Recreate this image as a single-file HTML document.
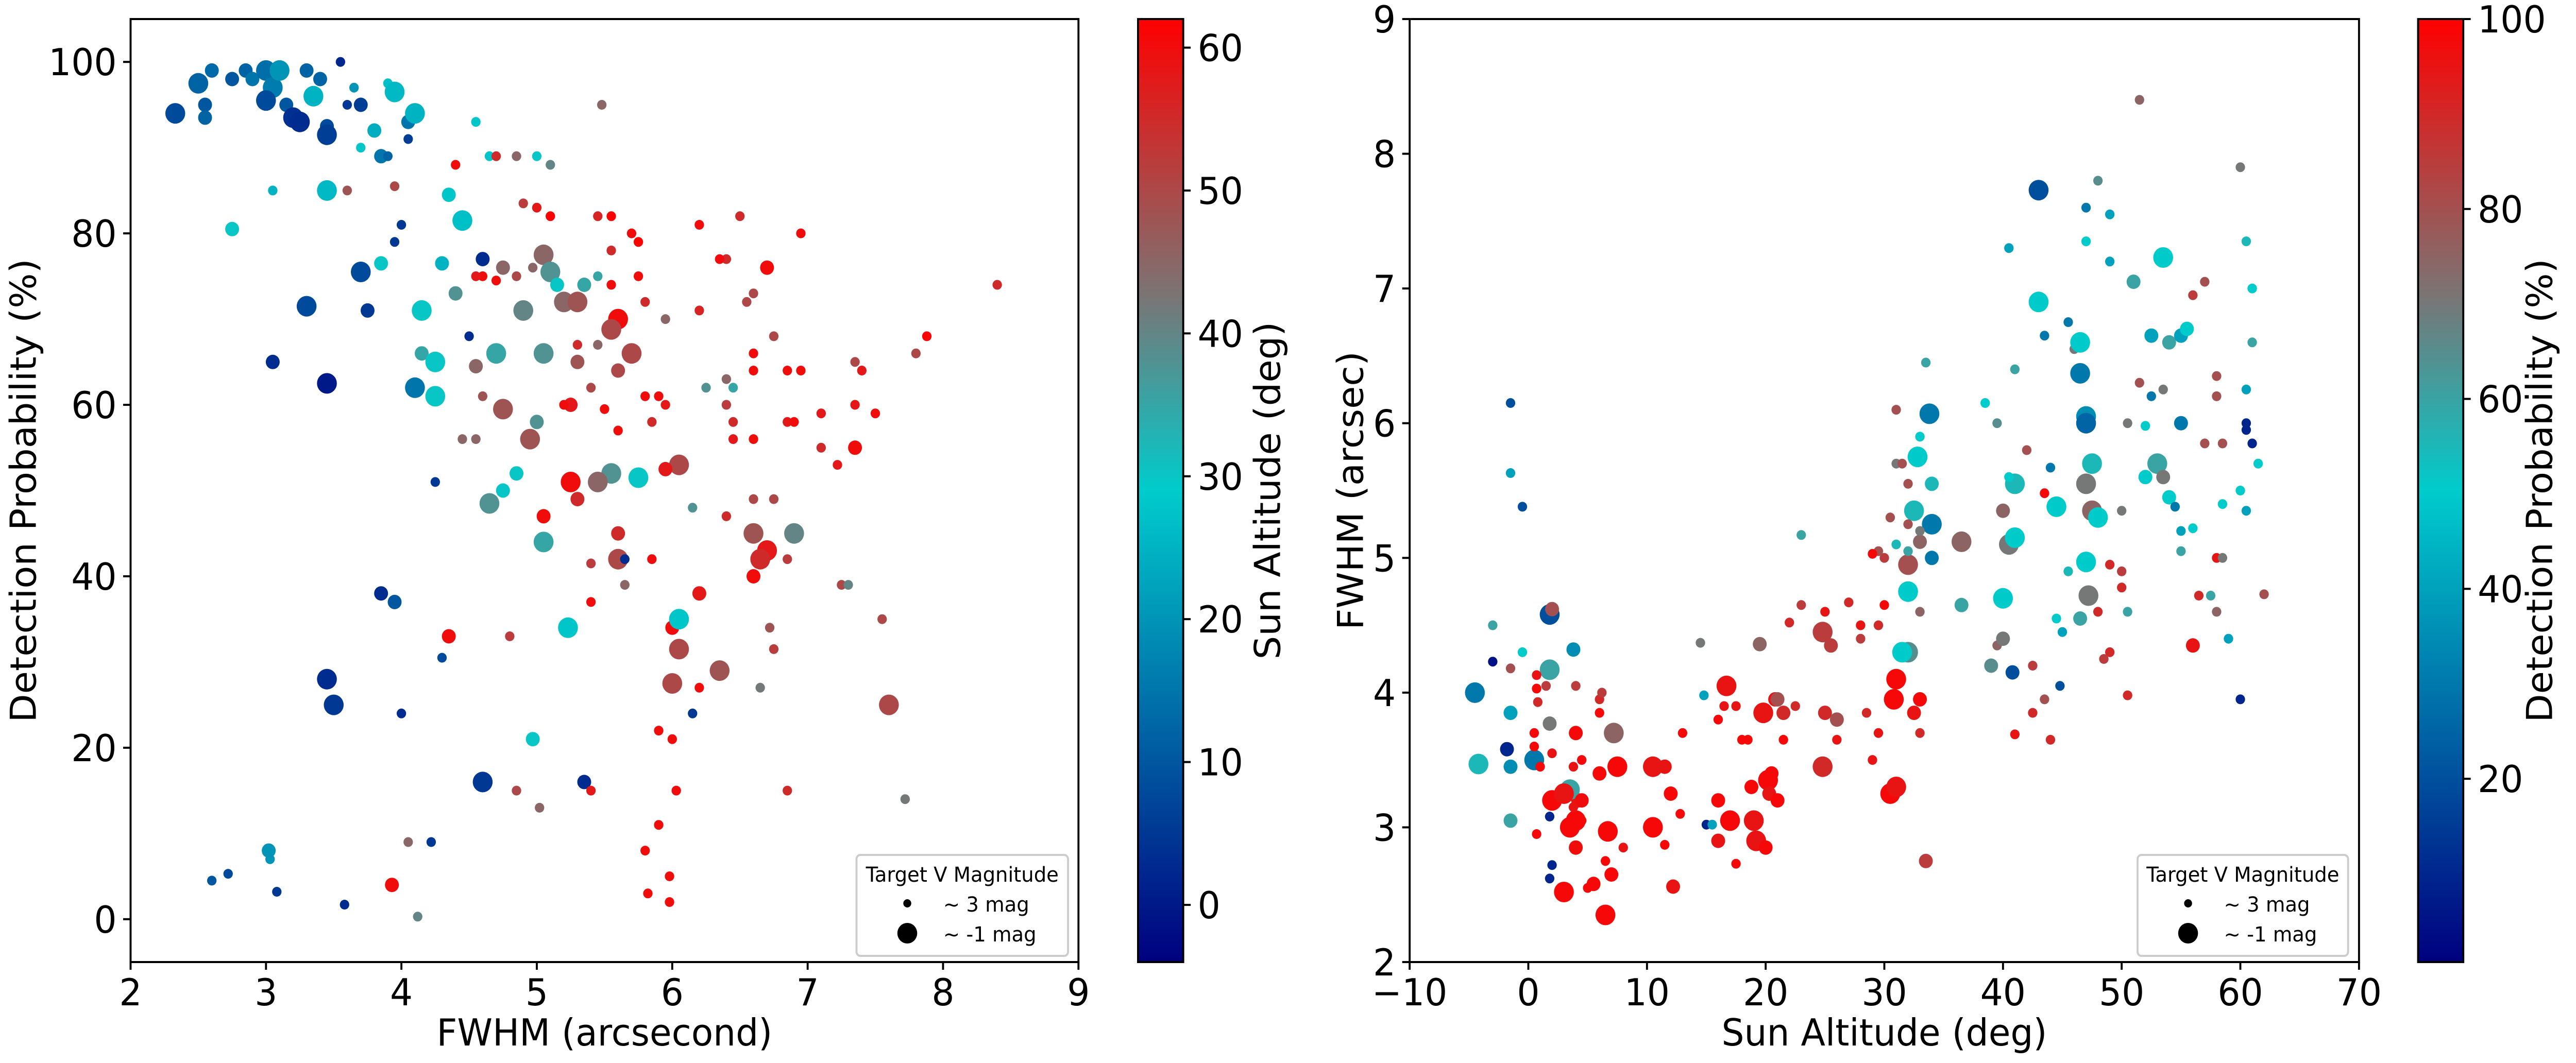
<!DOCTYPE html>
<html><head><meta charset="utf-8"><style>
html,body{margin:0;padding:0;background:#fff;width:100%;height:100%;overflow:hidden}
svg{display:block;width:100vw;height:100vh}
text{font-family:"DejaVu Sans","Liberation Sans",sans-serif;fill:#000}
</style></head><body>
<svg id="fig" viewBox="0 0 5188 2064" preserveAspectRatio="none" xmlns="http://www.w3.org/2000/svg">
<defs>
<linearGradient id="cmap" x1="0" y1="1" x2="0" y2="0">
<stop offset="0" stop-color="#00007f"/><stop offset="0.5" stop-color="#00cccc"/><stop offset="0.7" stop-color="#777777"/><stop offset="1" stop-color="#ff0000"/>
</linearGradient>
</defs>
<g id="left"></g>
<g id="right"></g>
</svg>
<script>
// ---- Left chart data: FWHM vs Detection Probability, colour = sun altitude
const leftFwhm=[2.33,2.5,2.55,2.55,2.6,2.75,2.85,2.9,3.0,3.05,3.1,3.0,3.15,3.2,3.25,3.3,3.35,3.4,3.45,3.45,3.55,3.6,3.65,3.7,3.8,3.85,3.9,3.95,4.05,4.1,4.05,3.7,3.9,4.55,4.35,4.45,4.65,4.85,5.0,5.1,4.7,4.4,3.45,3.05,2.75,3.6,3.95,4.0,3.95,3.7,3.85,3.3,3.75,3.05,3.45,4.1,4.15,4.25,4.25,4.15,4.3,4.6,4.4,4.5,4.6,4.55,4.7,4.75,4.85,4.9,4.97,5.05,5.1,5.15,5.2,5.3,5.35,5.45,5.55,5.7,5.75,5.0,5.1,4.9,5.45,5.55,6.2,6.5,6.95,6.7,6.4,6.35,6.6,6.2,5.95,5.8,5.75,5.55,5.6,5.55,5.45,5.3,5.7,5.6,5.3,5.4,5.25,5.05,4.7,4.55,4.6,4.75,4.95,5.0,4.55,5.55,5.75,5.45,5.25,5.3,4.85,4.75,4.65,5.05,5.05,5.6,5.6,5.65,5.85,5.65,5.4,5.4,4.25,6.05,5.95,6.15,6.6,6.9,6.7,6.65,6.6,6.4,6.6,6.75,6.85,6.2,6.0,6.05,6.05,6.0,6.35,5.23,4.97,4.6,5.35,5.4,4.85,5.02,4.0,3.5,3.45,3.85,3.95,4.3,4.35,4.8,5.9,6.0,6.15,6.2,5.9,5.8,5.98,5.82,5.98,6.03,6.85,7.72,7.6,7.55,6.72,6.75,6.65,7.25,7.3,7.22,7.35,7.5,7.35,7.1,6.85,6.9,6.85,6.6,6.6,6.55,6.75,6.95,7.35,7.4,7.8,7.88,8.4,6.45,6.4,6.4,6.45,6.6,7.1,6.45,6.25,5.95,5.8,5.85,5.9,5.5,5.6,5.2,4.45,3.93,4.12,4.05,4.22,3.58,3.08,3.02,3.03,2.72,2.6,5.48];
const leftProb=[94,97.5,95,93.5,99,98,99,98,99,97,99,95.5,95,93.5,93,99,96,98,92.5,91.5,100,95,97,95,92,89,97.5,96.5,93,94,91,90,89,93,84.5,81.5,89,89,89,88,89,88,85,85,80.5,85,85.5,81,79,75.5,76.5,71.5,71,65,62.5,62,66,65,61,71,76.5,77,73,68,75,75,74.5,76,75,71,76,77.5,75.5,74,72,72,74,75,78,80,79,83,82,83.5,82,82,81,82,80,76,77,77,73,71,70,72,75,74,70,68.8,67,67,66,64,65,62,60,66,66,64.5,61,59.5,56,58,56,52,51.5,51,51,49,52,50,48.5,47,44,45,42,42,42,39,41.5,37,51,53,52.5,48,45,45,43,42,40,47,49,49,42,38,34,35,31.5,27.5,29,34,21,16,16,15,15,13,24,25,28,38,37,30.5,33,33,22,21,24,27,11,8,5,3,2,15,15,14,25,35,34,31.5,27,39,39,53,55,59,60,59,58,58,64,64,66,72,68,64,65,64,66,68,74,58,60,63,62,56,55,56,62,60,61,58,61,59.5,57,60,56,4,0.3,9,9,1.7,3.2,8,7,5.3,4.5,95];
const leftAlt=[8,12,10,12,13,10,12,15,14,16,20,8,10,4,3,12,25,12,8,6,2,5,20,6,24,15,27,26,15,25,6,28,12,28,28,27,28,45,30,40,55,60,26,25,30,48,50,5,5,8,30,8,5,3,0,15,35,30,30,30,25,3,38,3,60,58,60,45,50,40,45,45,38,30,45,48,35,35,55,60,62,58,62,52,56,62,60,55,60,60,55,60,50,56,45,55,60,60,60,50,45,55,50,50,48,50,58,38,35,45,48,48,48,38,45,38,30,45,60,55,30,30,38,60,35,55,50,3,60,45,52,60,5,50,58,38,48,40,58,55,60,55,50,50,52,58,60,28,50,50,48,28,30,5,3,58,50,45,3,5,3,3,10,8,60,52,60,60,5,60,60,60,60,60,60,60,55,42,50,50,48,52,42,50,40,58,60,60,58,58,58,60,60,60,60,50,50,60,50,58,50,62,55,55,52,45,35,60,55,58,38,58,60,55,60,60,60,60,45,60,40,45,5,3,5,20,20,8,10,45];
const leftMag=[-1,-1,1,1,1,1,1,1,-1,-1,-1,-1,1,-1,-1,1,-1,1,1,-1,3,3,3,1,1,1,3,-1,1,-1,3,3,3,3,1,-1,3,3,3,3,3,3,-1,3,1,3,3,3,3,-1,1,-1,1,1,-1,-1,1,-1,-1,-1,1,1,1,3,3,3,3,1,3,-1,3,-1,-1,1,-1,-1,1,3,3,3,3,3,3,3,3,3,3,3,3,1,3,3,3,3,3,3,3,3,-1,-1,3,3,-1,1,1,3,1,-1,-1,1,3,-1,-1,1,3,-1,-1,-1,-1,1,1,1,-1,1,-1,1,-1,3,3,3,3,3,3,-1,1,3,-1,-1,-1,-1,1,3,3,3,3,1,1,-1,-1,-1,-1,-1,1,-1,1,3,3,3,3,-1,-1,1,1,3,1,3,3,3,3,3,3,3,3,3,3,3,3,3,-1,3,3,3,3,3,3,3,1,3,3,3,3,3,3,3,3,3,3,3,3,3,3,3,3,3,3,3,3,3,3,3,3,3,3,3,3,3,3,3,3,1,3,3,3,3,3,1,3,3,3,3,3,3];
const leftXTicks=[2,3,4,5,6,7,8,9];
const leftYTicks=[0,20,40,60,80,100];
const leftCbTicks=[0,10,20,30,40,50,60];

// ---- Right chart data: Sun altitude vs FWHM, colour = detection probability
const rightAlt=[2,3.5,4,4.2,5.5,6.5,6.7,3,7,7.5,7.2,4,3.5,3,6,8,5,4,4.5,6.5,10.5,10.5,11.5,11.5,12,12.2,13,12.8,16.7,17,16,16,17.5,18.5,18.8,19,19.2,20,20.2,20.5,20.3,21,21.5,19.8,20.8,21.5,21,19.5,22.5,24.8,25,26,25.5,24.8,27,28,29,28.5,29.5,30.5,31,30.8,31,33,32.5,33,33.5,32,31.5,32,33,32.5,32,34,34,33.8,33.5,31,31,31.5,32.8,33,34,30,29.5,30.5,31,32,33,36.5,36.5,39,40,39.5,40,40.5,41,41,40,40.5,42,43.5,44.5,44,38.5,39.5,41,40.5,43,43,43.5,45.5,46,46.5,46.5,47,47,47.5,47,47.5,48,47,47.2,46.5,45.5,44.5,45,44.8,42.5,42.5,44,43.5,41,40.8,48,49,48.5,49,50,50.5,49,49,48,47,47,51.5,51,52.5,53.5,55,55.5,52.5,53.5,54,55,52,53,53.5,52,54,55,56,55,56.5,56,57.5,58,58,58.5,58.5,60,60.5,60.5,61,61.5,60.5,60.5,61,61,60.5,60,58,58.5,59,60,62,57,58,56,57,51.5,50.5,54.5,50,50,50.5,-1.5,-1.5,-0.5,-0.5,-3,-3,-1.5,-1.5,-4.5,-4.2,-1.8,-1.5,-1.5,0.5,1.8,2,1.8,1.8,3.8,4,1.5,0.7,0.7,0.8,0.5,0.5,2,1.8,2,1.8,0.7,1,6,6,6.2,3.8,3.8,4.5,4.5,14.8,15,15.5,16,16.5,17.5,18,14.5,23,22,23,25,26,28,29,30,29.5,32,32,33];
const rightFwhm=[3.2,3.0,2.85,3.2,2.58,2.35,2.97,2.52,2.65,3.45,3.7,3.7,3.28,3.25,3.4,2.85,2.55,3.05,3.2,2.75,3.45,3.0,3.45,2.87,3.25,2.56,3.7,3.1,4.05,3.05,3.2,2.9,2.73,3.65,3.3,3.05,2.9,2.85,3.35,3.4,3.25,3.2,3.65,3.85,3.95,3.85,3.95,4.36,3.9,3.45,3.85,3.8,4.35,4.45,4.67,4.4,3.5,3.85,4.5,3.25,3.3,3.95,4.1,3.95,3.85,3.7,2.75,4.3,4.3,4.95,5.12,5.35,5.25,5.25,5.0,6.07,6.45,6.1,5.7,5.7,5.75,5.9,5.55,5.0,5.05,5.3,5.1,4.75,4.6,5.12,4.65,4.2,4.7,4.35,4.4,5.1,5.15,5.55,5.35,5.6,5.8,5.48,5.38,5.67,6.15,6.0,6.4,7.3,7.73,6.9,6.65,6.75,6.55,6.6,6.37,6.05,6.0,5.7,5.55,5.35,5.3,4.97,4.72,4.55,4.9,4.55,4.45,4.05,4.2,3.85,3.65,3.95,3.69,4.15,4.6,4.3,4.25,4.95,4.9,3.98,7.55,7.2,7.8,7.35,7.6,8.4,7.05,6.65,7.23,6.65,6.7,6.2,6.25,6.6,6.0,5.98,5.7,5.6,5.6,5.45,5.2,5.22,5.05,4.72,4.35,4.72,4.6,5.0,5.0,5.4,5.5,5.95,6.0,5.85,5.7,5.35,6.25,6.6,7.0,7.35,7.9,6.35,5.85,4.4,3.95,4.73,5.85,6.2,6.95,7.05,6.3,6.0,5.38,5.35,4.78,4.6,6.15,5.63,5.38,4.3,4.5,4.23,4.18,3.85,4.0,3.47,3.58,3.45,3.05,3.5,4.58,4.62,4.17,3.77,4.32,4.05,4.05,4.13,4.03,3.93,3.7,3.6,3.55,3.08,2.72,2.62,2.95,3.45,3.85,3.95,4.0,3.45,3.15,3.05,3.5,3.98,3.02,3.02,3.8,3.9,3.9,3.65,4.37,5.17,4.52,4.65,4.6,3.65,4.5,5.03,4.65,3.7,5.55,5.05,5.2];
const rightProb=[98,98,97,95,98,98,98,98,98,98,75,98,60,95,98,95,98,98,97,98,95,98,95,98,98,95,98,98,95,98,98,95,98,98,98,95,95,98,98,98,95,98,98,95,95,90,80,75,90,90,90,80,85,85,90,85,95,90,90,98,95,98,98,98,95,90,85,65,50,80,75,55,80,30,30,30,60,80,70,80,50,50,55,85,80,80,55,50,75,75,60,65,50,75,70,70,50,55,75,50,80,98,50,30,50,65,60,40,20,50,30,30,70,50,30,35,25,55,70,75,50,50,70,60,55,50,40,20,85,90,90,80,95,20,90,90,85,90,85,90,40,40,65,50,30,75,60,40,50,40,50,30,70,60,30,50,60,70,50,50,40,50,60,90,95,60,75,95,70,50,50,10,10,10,50,40,40,60,50,55,70,80,80,40,10,80,80,80,85,80,80,70,30,70,90,60,20,40,20,50,60,5,80,40,30,55,10,35,60,30,20,80,60,70,35,85,85,95,98,90,98,98,95,10,10,10,98,98,98,90,85,95,95,98,98,40,10,40,98,95,95,98,70,60,90,85,95,95,95,98,98,95,80,60,70];
const rightMag=[-1,-1,1,1,1,-1,-1,-1,1,-1,-1,1,-1,-1,1,3,3,-1,1,3,-1,-1,1,3,1,1,3,3,-1,-1,1,1,3,3,1,-1,-1,1,-1,1,1,1,3,-1,1,1,1,1,3,-1,1,1,1,-1,3,3,3,3,3,-1,-1,-1,-1,1,1,3,1,-1,-1,-1,1,-1,3,-1,1,-1,3,3,3,3,-1,3,1,3,3,3,3,-1,3,-1,1,1,-1,3,1,-1,-1,-1,1,3,3,3,-1,3,3,3,3,3,-1,-1,3,3,3,-1,-1,-1,-1,-1,-1,-1,-1,-1,-1,1,3,3,3,3,3,3,3,3,3,1,3,3,3,3,3,3,3,3,3,3,3,3,1,1,-1,1,1,3,3,1,1,3,-1,1,1,1,3,3,3,3,1,3,3,3,3,3,3,3,3,3,3,3,3,3,3,3,3,3,3,3,3,3,3,3,3,3,3,3,3,3,3,3,3,3,3,3,3,3,3,1,-1,-1,1,1,1,-1,-1,1,-1,1,1,3,3,3,3,3,3,3,3,3,3,3,3,3,3,3,3,3,3,3,3,3,3,3,3,3,3,3,3,3,3,3,3,3,3,3,3,3,3,3,3,3];
const rightXTicks=[-10,0,10,20,30,40,50,60,70];
const rightYTicks=[2,3,4,5,6,7,8,9];
const rightCbTicks=[20,40,60,80,100];

const NS="http://www.w3.org/2000/svg";
const stops=[[0,[0,0,127]],[0.5,[0,204,204]],[0.7,[119,119,119]],[1,[255,0,0]]];
function cmap(t){t=Math.max(0,Math.min(1,t));for(let i=1;i<stops.length;i++){if(t<=stops[i][0]){const a=stops[i-1],b=stops[i];const f=(t-a[0])/(b[0]-a[0]);const c=a[1].map((v,k)=>Math.round(v+(b[1][k]-v)*f));return `rgb(${c[0]},${c[1]},${c[2]})`;}}return "rgb(255,0,0)";}
function radius(m){return m>=3?9.5:(m>=1?14:20);}
function el(tag,attrs,parent,txt){const e=document.createElementNS(NS,tag);for(const k in attrs)e.setAttribute(k,attrs[k]);if(txt!==undefined)e.textContent=txt;parent.appendChild(e);return e;}

function panel(g,cfg){
  const {x0,x1,y0,y1,xmin,xmax,ymin,ymax}=cfg;
  const sx=v=>x0+(v-xmin)/(xmax-xmin)*(x1-x0);
  const sy=v=>y1-(v-ymin)/(ymax-ymin)*(y1-y0);
  const pts=el('g',{},g);
  
  
  for(let i=0;i<cfg.xs.length;i++){
    const c=el('circle',{cx:sx(cfg.xs[i]).toFixed(1),cy:sy(cfg.ys[i]).toFixed(1),r:radius(cfg.ms[i]),fill:cmap((cfg.cs[i]-cfg.cmin)/(cfg.cmax-cfg.cmin))},pts);
    
    
  }
  const fr=el('rect',{x:x0,y:y0,width:x1-x0,height:y1-y0,fill:'none',stroke:'#000','stroke-width':4},g);
  
  
  cfg.xt.forEach(v=>{const x=sx(v);el('line',{x1:x,y1:y1,x2:x,y2:y1+15,stroke:'#000','stroke-width':4},g);
    const t=el('text',{x:x,y:y1+84,'font-size':72,'text-anchor':'middle'},g,v<0?'\u2212'+(-v):String(v));
    
    });
  cfg.yt.forEach(v=>{const y=sy(v);el('line',{x1:x0-15,y1:y,x2:x0,y2:y,stroke:'#000','stroke-width':4},g);
    const t=el('text',{x:x0-28,y:y+26,'font-size':72,'text-anchor':'end'},g,String(v));
    
    });
  const xl=el('text',{x:(x0+x1)/2,y:2030,'font-size':72,'text-anchor':'middle'},g,cfg.xlabel);
  
  
  const yl=el('text',{x:0,y:0,'font-size':72,'text-anchor':'middle',transform:`translate(${cfg.ylx},${(y0+y1)/2}) rotate(-90)`},g,cfg.ylabel);
  
  
  const cb=el('rect',{x:cfg.cbx,y:y0,width:91,height:y1-y0,fill:'url(#cmap)',stroke:'#000','stroke-width':4},g);
  
  
  const cy=v=>y1-(v-cfg.cmin)/(cfg.cmax-cfg.cmin)*(y1-y0);
  cfg.ct.forEach(v=>{const y=cy(v);el('line',{x1:cfg.cbx+91,y1:y,x2:cfg.cbx+106,y2:y,stroke:'#000','stroke-width':4},g);
    const t=el('text',{x:cfg.cbx+120,y:y+26,'font-size':72},g,String(v));
    
    });
  const cl=el('text',{x:0,y:0,'font-size':72,'text-anchor':'middle',transform:`translate(${cfg.cblx},${(y0+y1)/2}) rotate(-90)`},g,cfg.cblabel);
  
  
  const lg=el('g',{},g);
  
  
  const lx=cfg.lgx;
  el('rect',{x:lx,y:1660,width:cfg.lgw,height:196,rx:8,fill:'#fff',stroke:'#ccc','stroke-width':4},lg);
  el('text',{x:lx+cfg.lgw/2,y:1712,'font-size':40,'text-anchor':'middle'},lg,'Target V Magnitude');
  el('circle',{cx:lx+cfg.lgw*0.24,cy:1754,r:8,fill:'#000'},lg);
  el('circle',{cx:lx+cfg.lgw*0.24,cy:1812,r:20,fill:'#000'},lg);
  el('text',{x:lx+cfg.lgw*0.41,y:1770,'font-size':40},lg,'~ 3 mag');
  el('text',{x:lx+cfg.lgw*0.41,y:1828,'font-size':40},lg,'~ -1 mag');
}
panel(document.getElementById('left'),{x0:263,x1:2172,y0:37,y1:1868,xmin:2,xmax:9,ymin:-5,ymax:105,
  xs:leftFwhm,ys:leftProb,cs:leftAlt,ms:leftMag,cmin:-4,cmax:62,xt:leftXTicks,yt:leftYTicks,ct:leftCbTicks,
  xlabel:'FWHM (arcsecond)',ylabel:'Detection Probability (%)',ylx:72,cbx:2292,cblx:2578,cblabel:'Sun Altitude (deg)',lgx:1725,lgw:426});
panel(document.getElementById('right'),{x0:2839,x1:4751,y0:37,y1:1868,xmin:-10,xmax:70,ymin:2,ymax:9,
  xs:rightAlt,ys:rightFwhm,cs:rightProb,ms:rightMag,cmin:0.7,cmax:100,xt:rightXTicks,yt:rightYTicks,ct:rightCbTicks,
  xlabel:'Sun Altitude (deg)',ylabel:'FWHM (arcsec)',ylx:2745,cbx:4870,cblx:5140,cblabel:'Detection Probability (%)',lgx:4305,lgw:424});
</script>
</body></html>
